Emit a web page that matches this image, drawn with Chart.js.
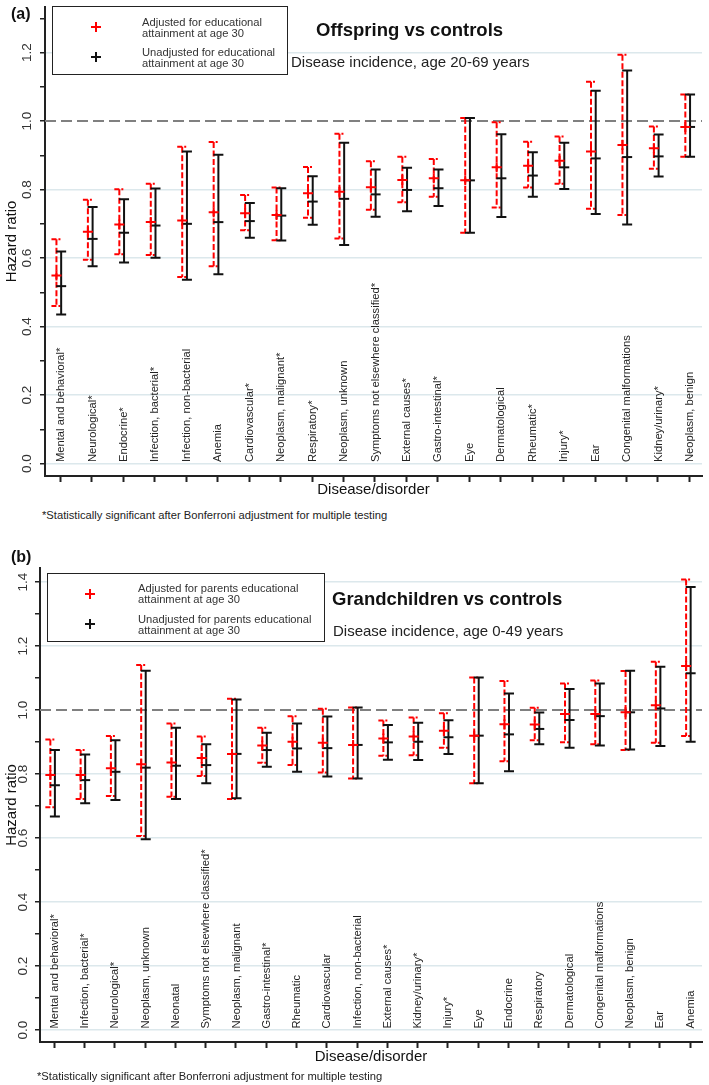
<!DOCTYPE html>
<html>
<head>
<meta charset="utf-8">
<script src="https://cdn.jsdelivr.net/npm/chart.js@4.4.1/dist/chart.umd.min.js"></script>
<style>
  html, body { margin: 0; padding: 0; background: #fff; }
  body { width: 709px; height: 1085px; position: relative; overflow: hidden; font-family: "Liberation Sans", Arial, sans-serif; color: #111; }
  .wrap { position: absolute; left: 0; width: 709px; }
  .txt { position: absolute; white-space: nowrap; line-height: 1; transform: translateY(-50%); }
  .panel { font-weight: bold; font-size: 16px; }
  .title { font-weight: bold; font-size: 18.5px; }
  .sub { font-size: 15px; color: #222; }
  .note { font-size: 11.2px; color: #222; }
  .legend { position: absolute; box-sizing: border-box; border: 1.7px solid #222; background: #fff; }
  .legend .lab { position: absolute; font-size: 11.2px; line-height: 11px; color: #333; white-space: nowrap; }
  .cross { position: absolute; width: 10px; height: 10px; margin: -5px 0 0 -5px; }
  .cross::before, .cross::after { content: ""; position: absolute; background: currentColor; }
  .cross::before { left: 0; top: 4px; width: 10px; height: 2px; }
  .cross::after { left: 4px; top: 0; width: 2px; height: 10px; }
</style>
</head>
<body>

<div class="wrap" style="top:0;height:505px"><canvas id="chartA"></canvas></div>
<div class="wrap" style="top:540px;height:545px"><canvas id="chartB"></canvas></div>

<!-- panel (a) text -->
<div class="txt panel" style="left:11px;top:14px">(a)</div>
<div class="legend" style="left:52px;top:6px;width:236px;height:69px">
  <div class="cross" style="left:43px;top:20px;color:#ff0000"></div>
  <div class="lab" style="left:89px;top:9.5px">Adjusted for educational<br>attainment at age 30</div>
  <div class="cross" style="left:43px;top:50px;color:#111"></div>
  <div class="lab" style="left:89px;top:39.5px">Unadjusted for educational<br>attainment at age 30</div>
</div>
<div class="txt title" style="left:316px;top:30px">Offspring vs controls</div>
<div class="txt sub" style="left:291px;top:61px">Disease incidence, age 20-69 years</div>
<div class="txt note" style="left:42px;top:516px">*Statistically significant after Bonferroni adjustment for multiple testing</div>

<!-- panel (b) text -->
<div class="txt panel" style="left:11px;top:557px">(b)</div>
<div class="legend" style="left:47px;top:573px;width:278px;height:69px">
  <div class="cross" style="left:42px;top:20px;color:#ff0000"></div>
  <div class="lab" style="left:90px;top:9px">Adjusted for parents educational<br>attainment at age 30</div>
  <div class="cross" style="left:42px;top:50px;color:#111"></div>
  <div class="lab" style="left:90px;top:39.5px">Unadjusted for parents educational<br>attainment at age 30</div>
</div>
<div class="txt title" style="left:332px;top:599px">Grandchildren vs controls</div>
<div class="txt sub" style="left:333px;top:630px">Disease incidence, age 0-49 years</div>
<div class="txt note" style="left:37px;top:1077px">*Statistically significant after Bonferroni adjustment for multiple testing</div>

<script>
// ---- panel (a): offspring vs controls ----
const catsA = [
  "Mental and behavioral*", "Neurological*", "Endocrine*", "Infection, bacterial*",
  "Infection, non-bacterial", "Anemia", "Cardiovascular*", "Neoplasm, malignant*",
  "Respiratory*", "Neoplasm, unknown", "Symptoms not elsewhere classified*",
  "External causes*", "Gastro-intestinal*", "Eye", "Dermatological", "Rheumatic*",
  "Injury*", "Ear", "Congenital malformations", "Kidney/urinary*", "Neoplasm, benign"
];
const adjA     = [0.549, 0.677, 0.698, 0.705, 0.710, 0.734, 0.731, 0.726, 0.789, 0.794, 0.807, 0.828, 0.833, 0.827, 0.865, 0.870, 0.884, 0.911, 0.930, 0.921, 0.983];
const adjLoA   = [0.460, 0.595, 0.611, 0.609, 0.545, 0.576, 0.681, 0.652, 0.718, 0.657, 0.741, 0.763, 0.779, 0.674, 0.748, 0.806, 0.817, 0.744, 0.726, 0.861, 0.896];
const adjHiA   = [0.655, 0.770, 0.801, 0.817, 0.925, 0.939, 0.784, 0.806, 0.866, 0.963, 0.883, 0.896, 0.889, 1.009, 0.997, 0.940, 0.955, 1.115, 1.194, 0.984, 1.078];
const unadjA   = [0.518, 0.656, 0.674, 0.695, 0.700, 0.705, 0.708, 0.724, 0.765, 0.773, 0.786, 0.799, 0.804, 0.827, 0.833, 0.841, 0.865, 0.891, 0.895, 0.897, 0.983];
const unadjLoA = [0.435, 0.576, 0.587, 0.601, 0.537, 0.553, 0.659, 0.651, 0.697, 0.638, 0.721, 0.737, 0.752, 0.674, 0.720, 0.779, 0.802, 0.729, 0.698, 0.838, 0.896];
const unadjHiA = [0.619, 0.749, 0.772, 0.803, 0.911, 0.902, 0.761, 0.804, 0.839, 0.937, 0.859, 0.864, 0.859, 1.009, 0.962, 0.909, 0.937, 1.089, 1.148, 0.961, 1.078];
const yTicksA  = [0, 0.1, 0.2, 0.3, 0.4, 0.5, 0.6, 0.7, 0.8, 0.9, 1.0, 1.1, 1.2, 1.3];
const yLabelsA = [0, 0.2, 0.4, 0.6, 0.8, 1.0, 1.2];

// ---- panel (b): grandchildren vs controls ----
const catsB = [
  "Mental and behavioral*", "Infection, bacterial*", "Neurological*", "Neoplasm, unknown",
  "Neonatal", "Symptoms not elsewhere classified*", "Neoplasm, malignant", "Gastro-intestinal*",
  "Rheumatic", "Cardiovascular", "Infection, non-bacterial", "External causes*",
  "Kidney/urinary*", "Injury*", "Eye", "Endocrine", "Respiratory", "Dermatological",
  "Congenital malformations", "Neoplasm, benign", "Ear", "Anemia"
];
const adjB     = [0.797, 0.797, 0.818, 0.831, 0.836, 0.850, 0.863, 0.889, 0.901, 0.898, 0.891, 0.911, 0.917, 0.935, 0.920, 0.956, 0.955, 0.988, 0.988, 0.993, 1.015, 1.138];
const adjLoB   = [0.696, 0.722, 0.731, 0.606, 0.729, 0.794, 0.722, 0.835, 0.828, 0.805, 0.786, 0.857, 0.859, 0.882, 0.771, 0.840, 0.906, 0.899, 0.893, 0.875, 0.898, 0.919];
const adjHiB   = [0.908, 0.875, 0.919, 1.141, 0.958, 0.917, 1.035, 0.945, 0.981, 1.004, 1.008, 0.967, 0.977, 0.990, 1.102, 1.091, 1.007, 1.083, 1.092, 1.122, 1.151, 1.408];
const unadjB   = [0.765, 0.781, 0.807, 0.820, 0.826, 0.828, 0.863, 0.875, 0.880, 0.881, 0.891, 0.899, 0.901, 0.915, 0.920, 0.924, 0.941, 0.969, 0.981, 0.993, 1.005, 1.115];
const unadjLoB = [0.667, 0.709, 0.719, 0.596, 0.722, 0.771, 0.724, 0.823, 0.807, 0.792, 0.786, 0.845, 0.844, 0.863, 0.771, 0.809, 0.893, 0.882, 0.889, 0.877, 0.888, 0.901];
const unadjHiB = [0.875, 0.861, 0.906, 1.123, 0.945, 0.893, 1.033, 0.929, 0.958, 0.980, 1.008, 0.953, 0.960, 0.968, 1.102, 1.052, 0.992, 1.066, 1.083, 1.123, 1.135, 1.385];
const yTicksB  = [0, 0.1, 0.2, 0.3, 0.4, 0.5, 0.6, 0.7, 0.8, 0.9, 1.0, 1.1, 1.2, 1.3, 1.4];
const yLabelsB = [0, 0.2, 0.4, 0.6, 0.8, 1.0, 1.2, 1.4];

const refLine = 1;

const FONT = '"Liberation Sans", Arial, sans-serif';
const RED = "#ff0000";
const BLACK = "#111";
const redOffset = -0.13;
const blackOffset = 0.02;

Chart.defaults.font.family = FONT;

// error bars, reference line and in-plot category labels
function barsPlugin(s) {
  return {
    id: "errorBars",
    beforeDatasetsDraw(chart) {
      const { ctx, chartArea } = chart;
      const x = chart.scales.x;
      const y = chart.scales.y;
      ctx.save();

      const yRef = y.getPixelForValue(refLine);
      ctx.strokeStyle = "#808080";
      ctx.lineWidth = 2;
      ctx.setLineDash([11, 5]);
      ctx.beginPath();
      ctx.moveTo(chartArea.left, yRef);
      ctx.lineTo(chartArea.right, yRef);
      ctx.stroke();

      // adjusted (red, dashed)
      ctx.strokeStyle = RED;
      ctx.lineWidth = 2;
      s.adjLo.forEach((lo, i) => {
        const px = x.getPixelForValue(i + redOffset);
        const y1 = y.getPixelForValue(lo);
        const y2 = y.getPixelForValue(s.adjHi[i]);
        ctx.setLineDash([6, 2.5]);
        ctx.beginPath();
        ctx.moveTo(px, y2);
        ctx.lineTo(px, y1);
        ctx.stroke();
        ctx.setLineDash([5, 2]);
        ctx.beginPath();
        ctx.moveTo(px - 5, y1); ctx.lineTo(px + 4, y1);
        ctx.moveTo(px - 5, y2); ctx.lineTo(px + 4, y2);
        ctx.stroke();
      });

      // unadjusted (black, solid)
      ctx.setLineDash([]);
      ctx.strokeStyle = BLACK;
      s.unLo.forEach((lo, i) => {
        const px = x.getPixelForValue(i + blackOffset);
        const y1 = y.getPixelForValue(lo);
        const y2 = y.getPixelForValue(s.unHi[i]);
        ctx.beginPath();
        ctx.moveTo(px, y2); ctx.lineTo(px, y1);
        ctx.moveTo(px - 5, y1); ctx.lineTo(px + 5, y1);
        ctx.moveTo(px - 5, y2); ctx.lineTo(px + 5, y2);
        ctx.stroke();
      });

      // category names, written upward from just above 0.0
      ctx.fillStyle = "#222";
      ctx.font = "11.2px " + FONT;
      ctx.textAlign = "left";
      ctx.textBaseline = "middle";
      const y0 = y.getPixelForValue(0) - 1.5;
      s.cats.forEach((c, i) => {
        ctx.save();
        ctx.translate(x.getPixelForValue(i) + 0.5, y0);
        ctx.rotate(-Math.PI / 2);
        ctx.fillText(c, 0, 0);
        ctx.restore();
      });

      ctx.restore();
    },
  };
}

function buildPanel(canvasId, s, ax) {
  return new Chart(document.getElementById(canvasId), {
    type: "scatter",
    data: {
      datasets: [
        {
          label: "Adjusted",
          data: s.adj.map((v, i) => ({ x: i + redOffset, y: v })),
          pointStyle: "cross",
          pointRadius: 5,
          pointHoverRadius: 5,
          pointBorderWidth: 2,
          pointBorderColor: RED,
          borderColor: RED,
          backgroundColor: RED,
        },
        {
          label: "Unadjusted",
          data: s.unadj.map((v, i) => ({ x: i + blackOffset, y: v })),
          pointStyle: "line",
          pointRadius: 5,
          pointHoverRadius: 5,
          pointBorderWidth: 2,
          pointBorderColor: BLACK,
          borderColor: BLACK,
          backgroundColor: BLACK,
        },
      ],
    },
    options: {
      responsive: true,
      maintainAspectRatio: false,
      animation: false,
      events: [],
      layout: { padding: ax.padding },
      plugins: {
        legend: { display: false },
        tooltip: { enabled: false },
      },
      scales: {
        x: {
          type: "linear",
          min: ax.xMin,
          max: ax.xMax,
          afterBuildTicks: (sc) => { sc.ticks = s.cats.map((c, i) => ({ value: i })); },
          afterFit: (sc) => { sc.height = ax.xHeight; sc.paddingLeft = 0; sc.paddingRight = 0; },
          ticks: { display: false },
          grid: { drawOnChartArea: false, tickLength: 6, tickColor: "#222", tickWidth: 2 },
          border: { color: "#222", width: 2 },
          title: {
            display: true,
            text: "Disease/disorder",
            color: "#111",
            font: { size: 15 },
            padding: { top: 0, bottom: ax.xTitlePad },
          },
        },
        y: {
          type: "linear",
          min: ax.yMin,
          max: ax.yMax,
          afterBuildTicks: (sc) => { sc.ticks = s.yTicks.map((v) => ({ value: v })); },
          afterFit: (sc) => { sc.width = ax.yWidth; sc.paddingTop = 0; sc.paddingBottom = 0; },
          ticks: {
            minRotation: 90,
            maxRotation: 90,
            crossAlign: "center",
            padding: ax.tickPad,
            color: "#333",
            font: { size: 13.5 },
            callback: (v) => (s.yLabels.includes(v) ? v.toFixed(1) : ""),
          },
          grid: {
            color: (c) =>
              c.tick && s.yLabels.includes(c.tick.value) && c.tick.value !== refLine
                ? "#dce8ec"
                : "rgba(0,0,0,0)",
            lineWidth: 1.5,
            tickLength: 5,
            tickColor: "#222",
            tickWidth: 1.5,
          },
          border: { color: "#222", width: 2 },
          title: {
            display: true,
            text: "Hazard ratio",
            color: "#111",
            font: { size: 15 },
            padding: { top: 3, bottom: 0 },
          },
        },
      },
    },
    plugins: [barsPlugin(s)],
  });
}

buildPanel(
  "chartA",
  {
    cats: catsA, adj: adjA, adjLo: adjLoA, adjHi: adjHiA,
    unadj: unadjA, unLo: unadjLoA, unHi: unadjHiA,
    yTicks: yTicksA, yLabels: yLabelsA,
  },
  {
    padding: { left: 0, top: 0, right: 0, bottom: 0 },
    xMin: -0.494, xMax: 20.4, yMin: -0.0365, yMax: 1.3333,
    xHeight: 29, xTitlePad: 6, yWidth: 45, tickPad: 3,
  }
);

buildPanel(
  "chartB",
  {
    cats: catsB, adj: adjB, adjLo: adjLoB, adjHi: adjHiB,
    unadj: unadjB, unLo: unadjLoB, unHi: unadjHiB,
    yTicks: yTicksB, yLabels: yLabelsB,
  },
  {
    padding: { left: 0, top: 28, right: 6, bottom: 19 },
    xMin: -0.472, xMax: 21.395, yMin: -0.0375, yMax: 1.444,
    xHeight: 24, xTitlePad: 0, yWidth: 40, tickPad: 2,
  }
);
</script>
</body>
</html>
